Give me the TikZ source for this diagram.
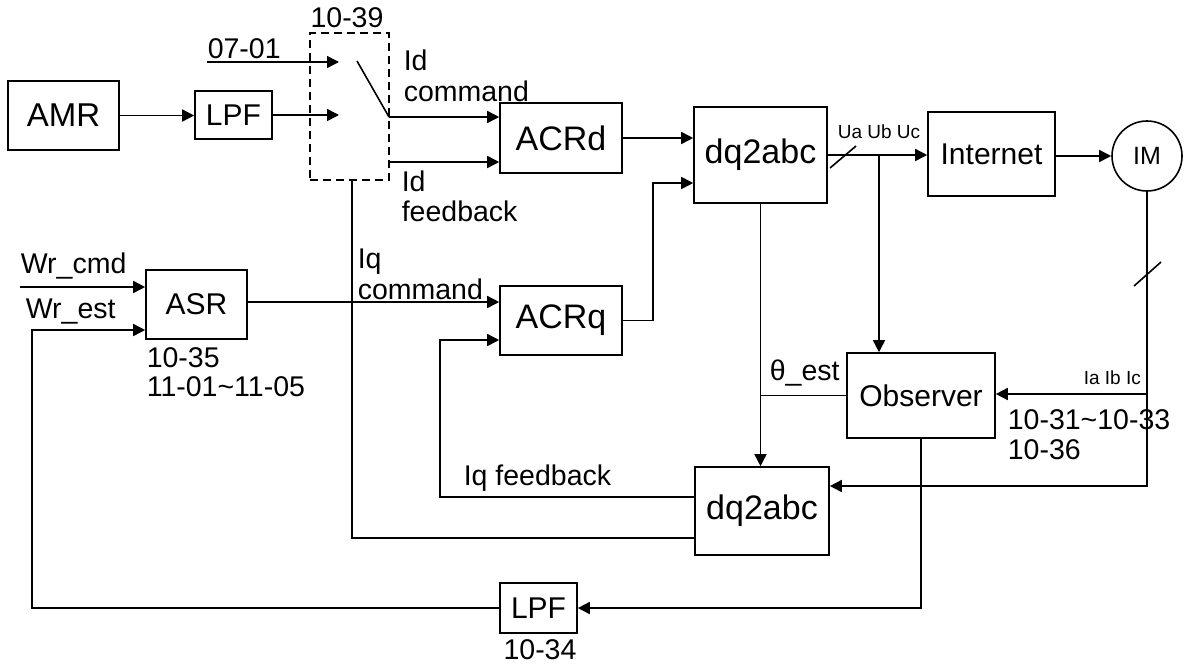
\documentclass[tikz,border=0pt]{standalone}
\usepackage{fontspec}
\setmainfont{Liberation Sans}
\usetikzlibrary{arrows.meta}
\begin{document}
\begin{tikzpicture}[x=0.5pt,y=-0.5pt, line width=0.8pt,
  sz/.style 2 args={minimum width=#1*0.5pt, minimum height=#2*0.5pt},
  box/.style={draw, inner sep=0pt, font=\fontsize{15}{18}\selectfont},
  bigbox/.style={box, font=\fontsize{17}{20}\selectfont},
  arr/.style={-{Triangle[length=6pt,width=6pt]}},
  lbl/.style={inner sep=0pt, anchor=west, font=\fontsize{14.25}{16}\selectfont},
  small/.style={inner sep=0pt, anchor=west, font=\fontsize{9.5}{11}\selectfont},
]
\useasboundingbox (0,0) rectangle (1186,664);

% blocks
\node[box, sz={111}{69}, font=\fontsize{16.5}{19}\selectfont] (amr) at (63.5,115.5) {AMR};
\node[box, sz={77}{48}] (lpfa) at (233.5,115) {LPF};
\node[draw, dashed, dash pattern=on 4pt off 2.5pt, sz={79}{147}, inner sep=0pt] (sw) at (349.5,106.5) {};
\node[bigbox, sz={122}{70}] (acrd) at (561,138) {ACRd};
\node[bigbox, sz={122}{69}] (acrq) at (561,320.5) {ACRq};
\node[bigbox, sz={133}{96}] (dqa) at (760.5,155) {dq2abc};
\node[box, sz={127}{84}] (inet) at (991.5,154) {Internet};
\node[draw, circle, minimum size=35pt, inner sep=0pt, font=\fontsize{12.5}{15}\selectfont] (im) at (1147,156) {IM};
\node[box, sz={101}{69}] (asr) at (196.5,304.5) {ASR};
\node[box, sz={148}{85}] (obs) at (921,395.5) {Observer};
\node[bigbox, sz={134}{88}] (dqb) at (762,511) {dq2abc};
\node[box, sz={77}{50}] (lpfb) at (538.5,608) {LPF};

% coordinates
\coordinate (c0701) at (207,62);
\coordinate (swin1) at (339,62);
\coordinate (swin2) at (339,115);
\coordinate (swA) at (357,61);
\coordinate (swB) at (389,117);
\coordinate (swC) at (389,162);
\coordinate (jq) at (653,183);
\coordinate (uj) at (879,155);
\coordinate (imb) at (1147,486);
\coordinate (iaj) at (1147,394);
\coordinate (fb) at (32,330);
\coordinate (wc) at (20,287);
\coordinate (iqc) at (490,302);
\coordinate (swd) at (352,538);
\coordinate (iqf) at (440,497);
\coordinate (iqf2) at (440,340);

% connectors
\draw[arr] (amr.east) -- (amr.east -| lpfa.west);
\draw[arr] (c0701) -- (swin1);
\draw[arr] (lpfa.east) -- (swin2);
\draw (swA) -- (swB);
\draw[arr] (swB) -- (swB -| acrd.west);
\draw[arr] (swC) -- (swC -| acrd.west);
\draw[arr] (acrd.east) -- (acrd.east -| dqa.west);
\draw[arr] (acrq.east) -| (jq) -- (jq -| dqa.west);
\draw[arr] (dqa.east) -- (dqa.east -| inet.west);
\draw[arr] (uj) -- (uj |- obs.north);
\draw (830,168) -- (856,146);
\draw[arr] (im.west -| inet.east) -- (im.west);
\draw[arr] (im.south) -- (imb) -- (imb -| dqb.east);
\draw (1134,286) -- (1161,262);
\draw[arr] (iaj) -- (iaj -| obs.east);
\draw[arr] (dqa.south) -- (dqa.south |- dqb.north);
\draw (obs.west) -- (obs.west -| dqa.south);
\draw[arr] (obs.south) |- (lpfb.east);
\draw[arr] (lpfb.west) -| (fb) -- (fb -| asr.west);
\draw[arr] (wc) -- (wc -| asr.west);
\draw[arr] (asr.east |- iqc) -- (iqc -| acrq.west);
\draw (swd |- sw.south) -- (swd) -- (swd -| dqb.west);
\draw[arr] (iqf -| dqb.west) -- (iqf) -- (iqf2) -- (iqf2 -| acrq.west);

% labels
\node[lbl, anchor=center] (t1039) at (347,18) {10-39};
\node[lbl] (t0701) at (207,49) {07-01};
\node[lbl] (tid1) at (403,60) {Id};
\node[lbl] (tcmd1) at (403,91) {command};
\node[lbl] (tid2) at (401,181) {Id};
\node[lbl] (tfb2) at (401,211) {feedback};
\node[lbl] (tiq) at (357,262) {Iq};
\node[lbl] (tcmd2) at (357,289) {command};
\node[lbl] (twc) at (20,266) {Wr\_cmd};
\node[lbl] (twe) at (25,312) {Wr\_est};
\node[lbl] (t1035) at (146,358) {10-35};
\node[lbl] (t1101) at (146,387) {11-01\textasciitilde 11-05};
\node[lbl] (tth) at (769,373) {θ\_est};
\node[small] (tu) at (837,132) {Ua Ub Uc};
\node[small] (tia) at (1083,378) {Ia Ib Ic};
\node[lbl] (t1031) at (1007,420) {10-31\textasciitilde 10-33};
\node[lbl] (t1036) at (1007,450) {10-36};
\node[lbl] (tiqf) at (463,478) {Iq feedback};
\node[lbl, anchor=center] (t1034) at (540,650) {10-34};
\end{tikzpicture}
\end{document}
